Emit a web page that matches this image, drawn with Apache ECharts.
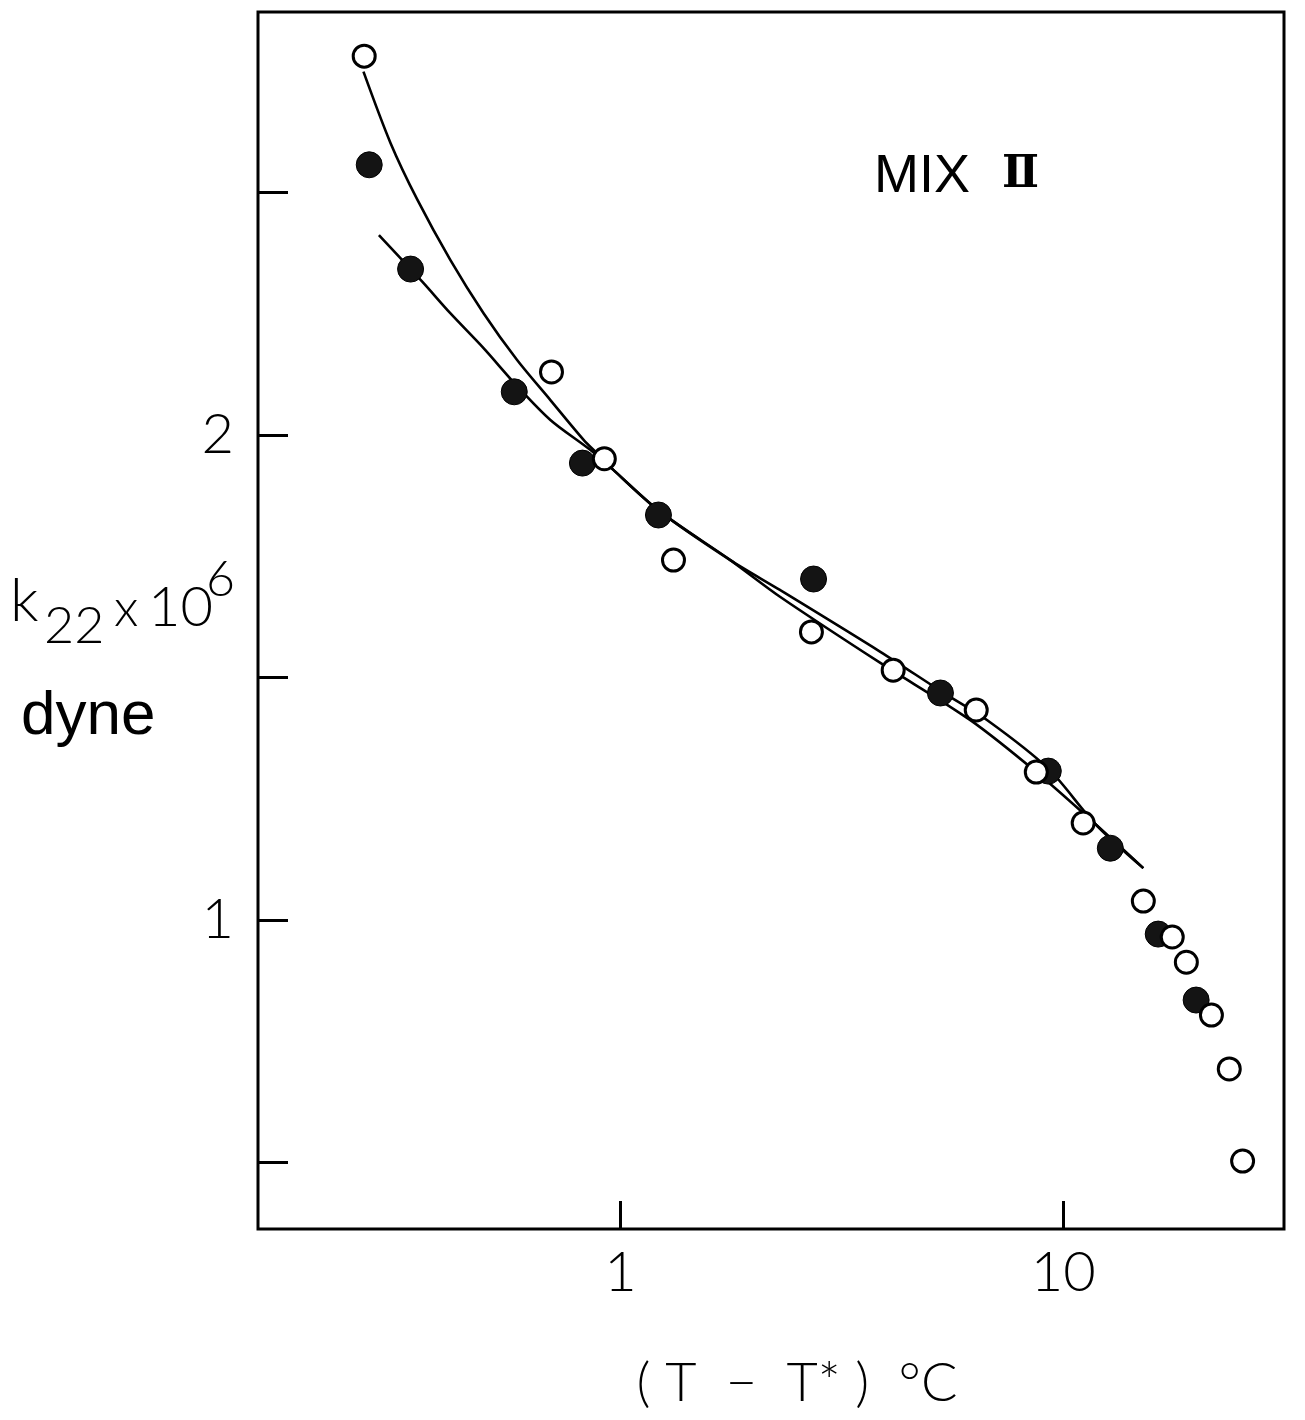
<!DOCTYPE html>
<html>
<head>
<meta charset="utf-8">
<title>MIX II – k22 vs (T - T*)</title>
<script src="https://cdn.jsdelivr.net/npm/echarts@6/dist/echarts.min.js"></script>
<style>
  html, body { margin: 0; padding: 0; background: #fff; }
  #chart { width: 1305px; height: 1420px; }
</style>
</head>
<body>
<div id="chart"></div>
<script>
// Twist elastic constant k22 (x10^6 dyne) against reduced temperature (T - T*) in °C.
// Open circles and filled circles are two measurement sets; each has its own fitted curve.

const openPoints = [
  [0.264, 2.781], [0.699, 2.130], [0.920, 1.951], [1.318, 1.742], [2.70, 1.594],
  [4.13, 1.515], [6.36, 1.433], [8.69, 1.305], [11.09, 1.200], [15.16, 1.039],
  [17.62, 0.965], [18.96, 0.913], [21.6, 0.804], [23.7, 0.693], [25.4, 0.503]
];

const filledPoints = [
  [0.271, 2.557], [0.336, 2.342], [0.576, 2.089], [0.821, 1.942], [1.219, 1.835],
  [2.73, 1.703], [5.28, 1.468], [9.25, 1.307], [12.77, 1.148], [16.38, 0.971],
  [19.95, 0.835]
];

// fitted curve through the open-circle set
const openCurve = [
  [0.263, 2.749], [0.303, 2.601], [0.348, 2.485], [0.413, 2.361], [0.491, 2.251],
  [0.584, 2.155], [0.695, 2.072], [0.826, 1.990], [0.886, 1.962], [0.964, 1.928],
  [1.225, 1.843], [1.771, 1.742], [2.297, 1.666], [3.863, 1.530], [6.168, 1.412],
  [8.69, 1.305], [11.81, 1.198], [15.16, 1.107]
];

// fitted curve through the filled-circle set
const filledCurve = [
  [0.285, 2.412], [0.357, 2.316], [0.413, 2.251], [0.491, 2.179], [0.579, 2.105],
  [0.695, 2.031], [0.856, 1.969], [0.964, 1.928], [1.225, 1.843], [1.771, 1.742],
  [2.297, 1.680], [3.863, 1.553], [5.333, 1.470], [6.737, 1.412], [9.25, 1.312],
  [11.81, 1.198], [15.16, 1.107]
];

const xTickLabels = ['1', '10'];
const yTickLabels = ['1', '2'];

const thinFont = 'Lato';
const chart = echarts.init(document.getElementById('chart'), null, { renderer: 'canvas' });

const curveStyle = { color: '#000', width: 2.6 };

const option = {
  backgroundColor: '#ffffff',
  animation: false,
  grid: {
    left: 258, right: 21, top: 12, bottom: 191,
    show: true, borderColor: '#000', borderWidth: 3, backgroundColor: 'transparent'
  },
  xAxis: {
    type: 'log',
    logBase: 10,
    min: 0.152,
    max: 31.5,
    axisLine: { show: false },
    splitLine: { show: false },
    minorTick: { show: false },
    axisTick: { show: true, inside: true, length: 28, lineStyle: { color: '#000', width: 3 } },
    axisLabel: {
      margin: 16,
      fontFamily: thinFont, fontWeight: 300, fontSize: 56, color: '#000',
      showMinLabel: false, showMaxLabel: false,
      formatter: v => {
        const s = String(Math.round(v * 1000) / 1000);
        return xTickLabels.includes(s) ? s : '';
      }
    },
    name: '( T  −  T* )  °C',
    nameLocation: 'middle',
    nameGap: 128,
    nameTextStyle: {
      fontFamily: thinFont, fontWeight: 300, fontSize: 54, color: '#000',
      padding: [0, 0, 0, 52]
    }
  },
  yAxis: {
    type: 'value',
    min: 0.363,
    max: 2.872,
    splitNumber: 5,
    axisLine: { show: false },
    splitLine: { show: false },
    axisTick: { show: true, inside: true, length: 30, lineStyle: { color: '#000', width: 3 } },
    axisLabel: {
      margin: 24,
      fontFamily: thinFont, fontWeight: 300, fontSize: 56, color: '#000',
      showMinLabel: false, showMaxLabel: false,
      formatter: v => {
        const s = String(Math.round(v * 1000) / 1000);
        return yTickLabels.includes(s) ? s : '';
      }
    }
  },
  series: [
    {
      name: 'fit (open)',
      type: 'line',
      data: openCurve,
      smooth: 0.3,
      showSymbol: false,
      lineStyle: curveStyle,
      z: 2
    },
    {
      name: 'fit (filled)',
      type: 'line',
      data: filledCurve,
      smooth: 0.3,
      showSymbol: false,
      lineStyle: curveStyle,
      z: 2
    },
    {
      name: 'filled',
      type: 'scatter',
      data: filledPoints,
      symbol: 'circle',
      symbolSize: 26,
      itemStyle: { color: '#141414', borderColor: '#000', borderWidth: 1, opacity: 1 },
      z: 3
    },
    {
      name: 'open',
      type: 'scatter',
      data: openPoints,
      symbol: 'circle',
      symbolSize: 22,
      itemStyle: { color: '#fff', borderColor: '#000', borderWidth: 3, opacity: 1 },
      z: 4
    }
  ],
  graphic: [
    // y-axis title: k22 x 10^6 / dyne
    { type: 'text', left: 10, top: 572, style: { text: 'k', font: '300 60px ' + thinFont, fill: '#000' } },
    { type: 'text', left: 44, top: 600, style: { text: '22', font: '300 52px ' + thinFont, fill: '#000' } },
    { type: 'text', left: 114, top: 583, style: { text: 'x', font: '300 52px ' + thinFont, fill: '#000' } },
    { type: 'text', left: 148, top: 580, style: { text: '10', font: '300 56px ' + thinFont, fill: '#000' } },
    { type: 'text', left: 206, top: 555, style: { text: '6', font: '300 50px ' + thinFont, fill: '#000' } },
    { type: 'text', left: 21, top: 686, style: { text: 'dyne', font: '62px "Liberation Sans", Arial, sans-serif', fill: '#000' } },
    // panel label
    { type: 'text', left: 874, top: 150, style: { text: 'MIX', font: '54px "Liberation Sans", Arial, sans-serif', fill: '#000' } },
    { type: 'text', left: 1002, top: 154, style: { text: 'Ⅱ', font: 'bold 44px "DejaVu Serif", serif', fill: '#000' } }
  ]
};

chart.setOption(option);
</script>
</body>
</html>
